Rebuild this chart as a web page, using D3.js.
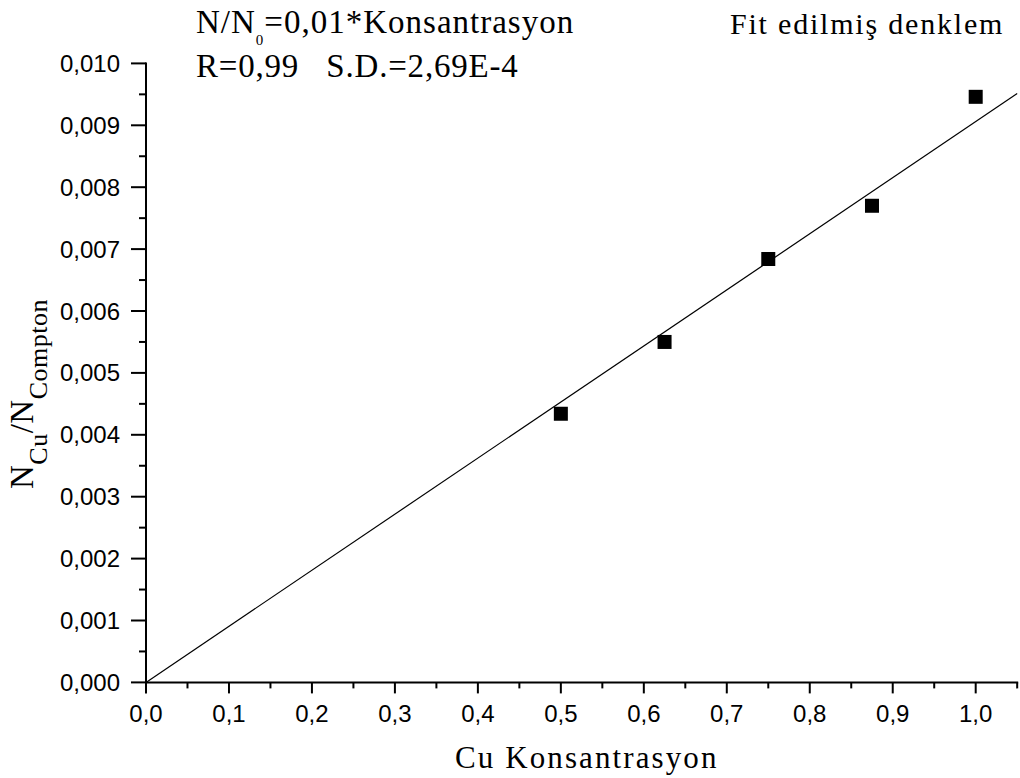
<!DOCTYPE html>
<html>
<head>
<meta charset="utf-8">
<script src="https://cdn.jsdelivr.net/npm/d3@7"></script>
<style>
body { margin: 0; background: #fff; }
text { fill: #000; }
</style>
</head>
<body>
<svg id="chart" width="1020" height="778"></svg>
<script>
// measured data
var concentrations = [0.5, 0.625, 0.75, 0.875, 1.0];
var ratios = [0.00434, 0.0055, 0.00684, 0.0077, 0.00946];
var fitSlope = 0.00906;
var xTicks = [0, 0.1, 0.2, 0.3, 0.4, 0.5, 0.6, 0.7, 0.8, 0.9, 1.0];
var yTicks = [0, 0.001, 0.002, 0.003, 0.004, 0.005, 0.006, 0.007, 0.008, 0.009, 0.010];

var svg = d3.select("#chart");

var x = d3.scaleLinear().domain([0, 1.05]).range([146, 146 + 829.7 * 1.05]);
var y = d3.scaleLinear().domain([0, 0.010]).range([682.4, 63.4]);

var fmtX = function(d) { return d3.format(".1f")(d).replace(".", ","); };
var fmtY = function(d) { return d3.format(".3f")(d).replace(".", ","); };

// minor ticks
var xMinor = d3.range(0.05, 1.06, 0.1);
var yMinor = d3.range(0.0005, 0.0100, 0.001);

var sans = "'Liberation Sans', Arial, sans-serif";
var serif = "'Liberation Serif', 'Times New Roman', serif";

var g = svg.append("g");

// x axis
var gx = g.append("g").attr("transform", "translate(0," + y(0) + ")");
gx.append("line").attr("x1", x(0) - 1).attr("x2", x(1.05) + 1)
	.attr("stroke", "#000").attr("stroke-width", 2);
gx.selectAll(".maj").data(xTicks).enter().append("line")
	.attr("x1", function(d) { return x(d); }).attr("x2", function(d) { return x(d); })
	.attr("y1", 0).attr("y2", 11).attr("stroke", "#000").attr("stroke-width", 2);
gx.selectAll(".min").data(xMinor).enter().append("line")
	.attr("x1", function(d) { return x(d); }).attr("x2", function(d) { return x(d); })
	.attr("y1", 0).attr("y2", 6).attr("stroke", "#000").attr("stroke-width", 2);
gx.selectAll(".lab").data(xTicks).enter().append("text")
	.attr("x", function(d) { return x(d); }).attr("y", 40)
	.attr("text-anchor", "middle")
	.style("font-family", sans).style("font-size", "24px")
	.text(fmtX);

// y axis
var gy = g.append("g").attr("transform", "translate(" + x(0) + ",0)");
gy.append("line").attr("y1", y(0) + 1).attr("y2", y(0.010) - 1)
	.attr("stroke", "#000").attr("stroke-width", 2);
gy.selectAll(".maj").data(yTicks).enter().append("line")
	.attr("y1", function(d) { return y(d); }).attr("y2", function(d) { return y(d); })
	.attr("x1", 0).attr("x2", -15).attr("stroke", "#000").attr("stroke-width", 2);
gy.selectAll(".min").data(yMinor).enter().append("line")
	.attr("y1", function(d) { return y(d); }).attr("y2", function(d) { return y(d); })
	.attr("x1", 0).attr("x2", -7).attr("stroke", "#000").attr("stroke-width", 2);
gy.selectAll(".lab").data(yTicks).enter().append("text")
	.attr("x", -26).attr("y", function(d) { return y(d) + 8.5; })
	.attr("text-anchor", "end")
	.style("font-family", sans).style("font-size", "24px")
	.text(fmtY);

// fit line
var line = d3.line()
	.x(function(d) { return x(d); })
	.y(function(d) { return y(fitSlope * d); });
g.append("path").attr("d", line([0, 1.05]))
	.attr("fill", "none").attr("stroke", "#000").attr("stroke-width", 1.2);

// points
g.selectAll(".pt").data(concentrations).enter().append("rect")
	.attr("x", function(d) { return x(d) - 7; })
	.attr("y", function(d, i) { return y(ratios[i]) - 7; })
	.attr("width", 14).attr("height", 14).attr("fill", "#000");

// annotations
var t1 = svg.append("text").attr("x", 196).attr("y", 33)
	.style("font-family", serif).style("font-size", "33px")
	.style("letter-spacing", "1px");
t1.append("tspan").text("N/N");
t1.append("tspan").attr("dy", 12).style("font-size", "15px").text("0");
t1.append("tspan").attr("dy", -12).text("=0,01*Konsantrasyon");

svg.append("text").attr("x", 196).attr("y", 77)
	.style("font-family", serif).style("font-size", "33px")
	.style("letter-spacing", "0.8px")
	.attr("xml:space", "preserve")
	.text("R=0,99   S.D.=2,69E-4");

svg.append("text").attr("x", 730).attr("y", 34)
	.style("font-family", serif).style("font-size", "30px")
	.style("letter-spacing", "1.8px")
	.text("Fit edilmiş denklem");

svg.append("text").attr("x", 455).attr("y", 768)
	.style("font-family", serif).style("font-size", "31px")
	.style("letter-spacing", "2.1px")
	.text("Cu Konsantrasyon");

var yt = svg.append("text")
	.attr("transform", "translate(33,394) rotate(-90)")
	.attr("text-anchor", "middle")
	.style("font-family", serif).style("font-size", "33px")
	.style("letter-spacing", "0.5px");
yt.append("tspan").text("N");
yt.append("tspan").attr("dy", 14).style("font-size", "26px").text("Cu");
yt.append("tspan").attr("dy", -14).text("/N");
yt.append("tspan").attr("dy", 14).style("font-size", "26px").text("Compton");
</script>
</body>
</html>
